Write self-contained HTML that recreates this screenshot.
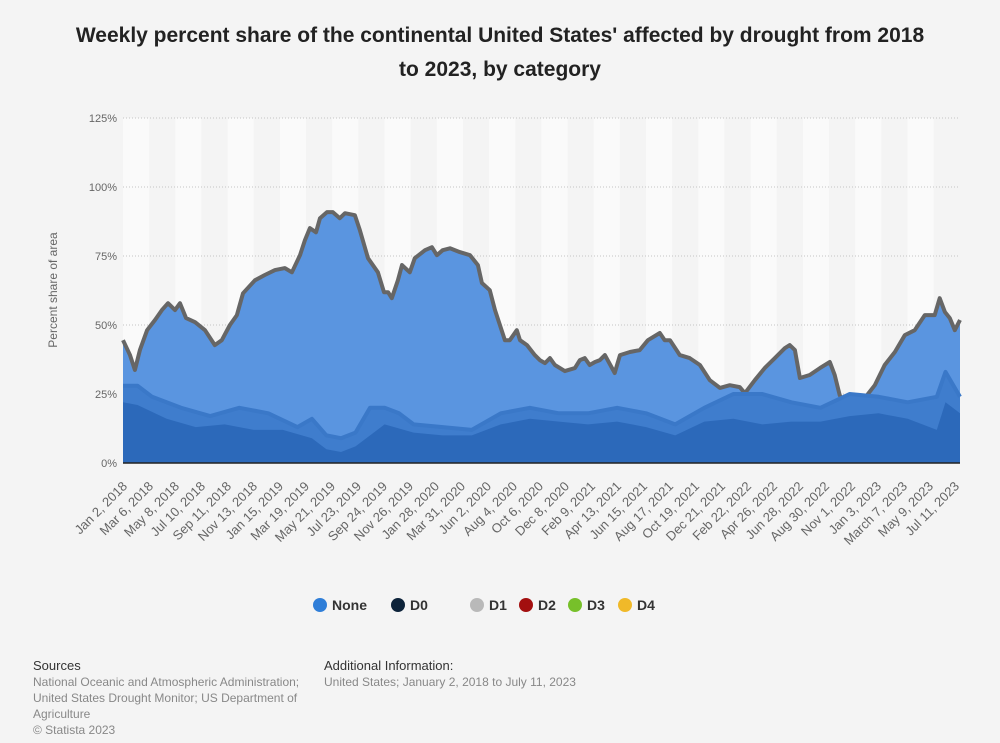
<!DOCTYPE html>
<html><head><meta charset="utf-8"><style>
body{margin:0;width:1000px;height:743px;background:#f4f4f4;font-family:"Liberation Sans",sans-serif;overflow:hidden;position:relative}
.t{position:absolute;left:0;width:1000px;top:19px;text-align:center;font-weight:bold;font-size:21px;line-height:34px;color:#222}
.foot{position:absolute;font-size:12px;color:#888;line-height:16px}
.foot b{color:#333;font-weight:normal;font-size:13px}
</style></head><body>
<div class="t">Weekly percent share of the continental United States' affected by drought from 2018<br>to 2023, by category</div>
<svg id="c" width="1000" height="743" style="position:absolute;left:0;top:0"></svg>
<div class="foot" style="left:33px;top:658px"><b>Sources</b><br>National Oceanic and Atmospheric Administration;<br>United States Drought Monitor; US Department of<br>Agriculture<br>© Statista 2023</div>
<div class="foot" style="left:324px;top:658px"><b>Additional Information:</b><br>United States; January 2, 2018 to July 11, 2023</div>
<script>
const noneWeeks=[0,2.4,4.1,5.8,8.3,11,13.4,15.5,17.9,19.6,21.7,24.8,28.2,31.6,34,36.8,39.2,41.3,45.4,48.8,52.3,55.7,58.1,60.9,62.6,64.3,66.4,67.8,70.2,72.2,74.6,76.4,79.8,81.5,84.3,87.7,89.8,91.2,92.5,94.6,96,98.7,100.4,103.9,106.3,108,110,112.5,115.9,119.4,122.1,123.5,126.2,128,129.7,131.4,133.1,135.5,136.6,139,141.7,143.4,145.2,146.9,148.6,152,155.5,157.2,158.9,160.6,162.4,164.1,165.8,169.2,171,174.4,177.8,180.6,184.7,186.4,188.2,191.6,195,198.5,201.9,205.4,208.8,212.2,214,217.4,220.8,224.3,227.7,229.4,231.2,232.9,236.3,239.8,243.2,244.9,246.6,248.4,250.1,251.8,253.5,255.2,258.7,262.1,265.6,269,272.4,275.9,279.3,281,282.8,284.5,286.2,288];
const noneValues=[44.5,39.1,33.7,40.9,48.1,51.8,55.4,57.9,55.4,57.9,52.5,51,48.1,42.7,44.5,50,53.6,61.5,66.2,68.1,69.9,70.6,69.1,75.3,80.7,85.1,83.6,88.7,90.9,90.9,88.7,90.5,89.8,84.3,74.2,69.1,61.9,61.9,59.7,66.2,71.7,69.1,74.2,77.1,78.2,75.3,77.1,77.8,76.4,75.3,71.7,65.2,62.6,55.4,50,44.5,44.5,48.1,44.5,42.7,39.1,37.3,36.2,38,35.5,33.3,34.4,37.3,38,35.5,36.6,37.3,39.1,32.6,39.1,40.2,40.9,44.5,47.1,44.5,44.5,39.1,38,35.5,30,27.2,28.2,27.5,25.3,30,34.4,38,41.6,42.7,40.9,30.8,31.9,34.4,36.6,31.9,24.6,21,18.5,21,17.4,23.5,28.2,35.5,40.2,46.3,48.1,53.6,53.6,59.7,54.7,52.5,48.1,51.8];
const d0Weeks=[0,5,10,20,30,40,50,60,65,70,75,80,85,90,95,100,110,120,130,140,150,160,170,180,190,200,210,220,230,240,250,260,270,280,283,288];
const d0Values=[28,28,24,20,17,20,18,13,16,10,9,11,20,20,18,14,13,12,18,20,18,18,20,18,14,20,25,25,22,20,25,24,22,24,33,24];
const d1Weeks=[0,5,15,25,35,45,55,65,70,75,80,90,100,110,120,130,140,150,160,170,180,190,200,210,220,230,240,250,260,270,280,283,288];
const d1Values=[22,21,16,13,14,12,12,9,5,4,6,14,11,10,10,14,16,15,14,15,13,10,15,16,14,15,15,17,18,16,12,22,18];
const yTicks=[0,25,50,75,100,125];
const xLabels=["Jan 2, 2018","Mar 6, 2018","May 8, 2018","Jul 10, 2018","Sep 11, 2018","Nov 13, 2018","Jan 15, 2019","Mar 19, 2019","May 21, 2019","Jul 23, 2019","Sep 24, 2019","Nov 26, 2019","Jan 28, 2020","Mar 31, 2020","Jun 2, 2020","Aug 4, 2020","Oct 6, 2020","Dec 8, 2020","Feb 9, 2021","Apr 13, 2021","Jun 15, 2021","Aug 17, 2021","Oct 19, 2021","Dec 21, 2021","Feb 22, 2022","Apr 26, 2022","Jun 28, 2022","Aug 30, 2022","Nov 1, 2022","Jan 3, 2023","March 7, 2023","May 9, 2023","Jul 11, 2023"];
const legendNames=["None","D0","D1","D2","D3","D4"];
const legendColors=["#2f7ed8","#0d233a","#b9b9b9","#a30f0f","#77c02a","#f0b929"];
const NS="http://www.w3.org/2000/svg",svg=document.getElementById('c');
const X0=123,X1=960,Y0=463,Y1=118,WMAX=288;
const xs=w=>X0+(w/WMAX)*(X1-X0), ys=v=>Y0-(v/125)*(Y0-Y1);
function mk(t,a){const e=document.createElementNS(NS,t);for(const k in a)e.setAttribute(k,a[k]);svg.appendChild(e);return e;}
const bg=mk('rect',{x:X0,y:Y1,width:X1-X0,height:Y0-Y1,fill:'#f4f4f4'});


for(let i=0;i<16;i++){const r=mk('rect',{x:X0+i*52.3,y:Y1,width:26.15,height:Y0-Y1,fill:'#fafafa'});

}
yTicks.forEach(v=>{
 if(v>0){const l=mk('line',{x1:X0,x2:X1,y1:ys(v),y2:ys(v),stroke:'#c4c4c4','stroke-dasharray':'1,2'});
 
 }
 const t=mk('text',{x:X0-6,y:ys(v)+4,'text-anchor':'end','font-size':11,fill:'#666'});t.textContent=v+'%';
 
 
});
const yt=mk('text',{x:57,y:290,'text-anchor':'middle','font-size':12,fill:'#666',transform:'rotate(-90 57 290)'});yt.textContent='Percent share of area';


function area(W,V,fill,name,stroke){
 let d='M'+xs(W[0])+','+Y0;W.forEach((w,i)=>d+='L'+xs(w).toFixed(1)+','+ys(V[i]).toFixed(1));d+='L'+xs(W[W.length-1])+','+Y0+'Z';
 const p=mk('path',{d,fill});
 if(stroke){let l='';W.forEach((w,i)=>l+=(i?'L':'M')+xs(w).toFixed(1)+','+ys(V[i]).toFixed(1));
 const s=mk('path',{d:l,fill:'none',stroke:stroke,'stroke-width':4,'stroke-linejoin':'round'});
 
 }
}
area(noneWeeks,noneValues,'#5a95e0','none-area','#666');
area(d0Weeks,d0Values,'#3f7dcd','d0-area','#3a78c8');
area(d1Weeks,d1Values,'#2c69ba','d1-area',null);
const ax=mk('line',{x1:X0,x2:X1,y1:Y0,y2:Y0,stroke:'#222','stroke-width':1.5});


xLabels.forEach((s,i)=>{const x=128+i*26,y=487;
 const t=mk('text',{x,y,'text-anchor':'end','font-size':13,fill:'#666',transform:`rotate(-45 ${x} ${y})`});t.textContent=s;
 
 });
const lx=[320,398,477,526,575,625];
legendNames.forEach((n,i)=>{
 const c=mk('circle',{cx:lx[i],cy:605,r:7,fill:legendColors[i]});
 
 
 const t=mk('text',{x:lx[i]+12,y:610,'font-size':14,'font-weight':'bold',fill:'#333'});t.textContent=n;
 
 
});
</script>
</body></html>
